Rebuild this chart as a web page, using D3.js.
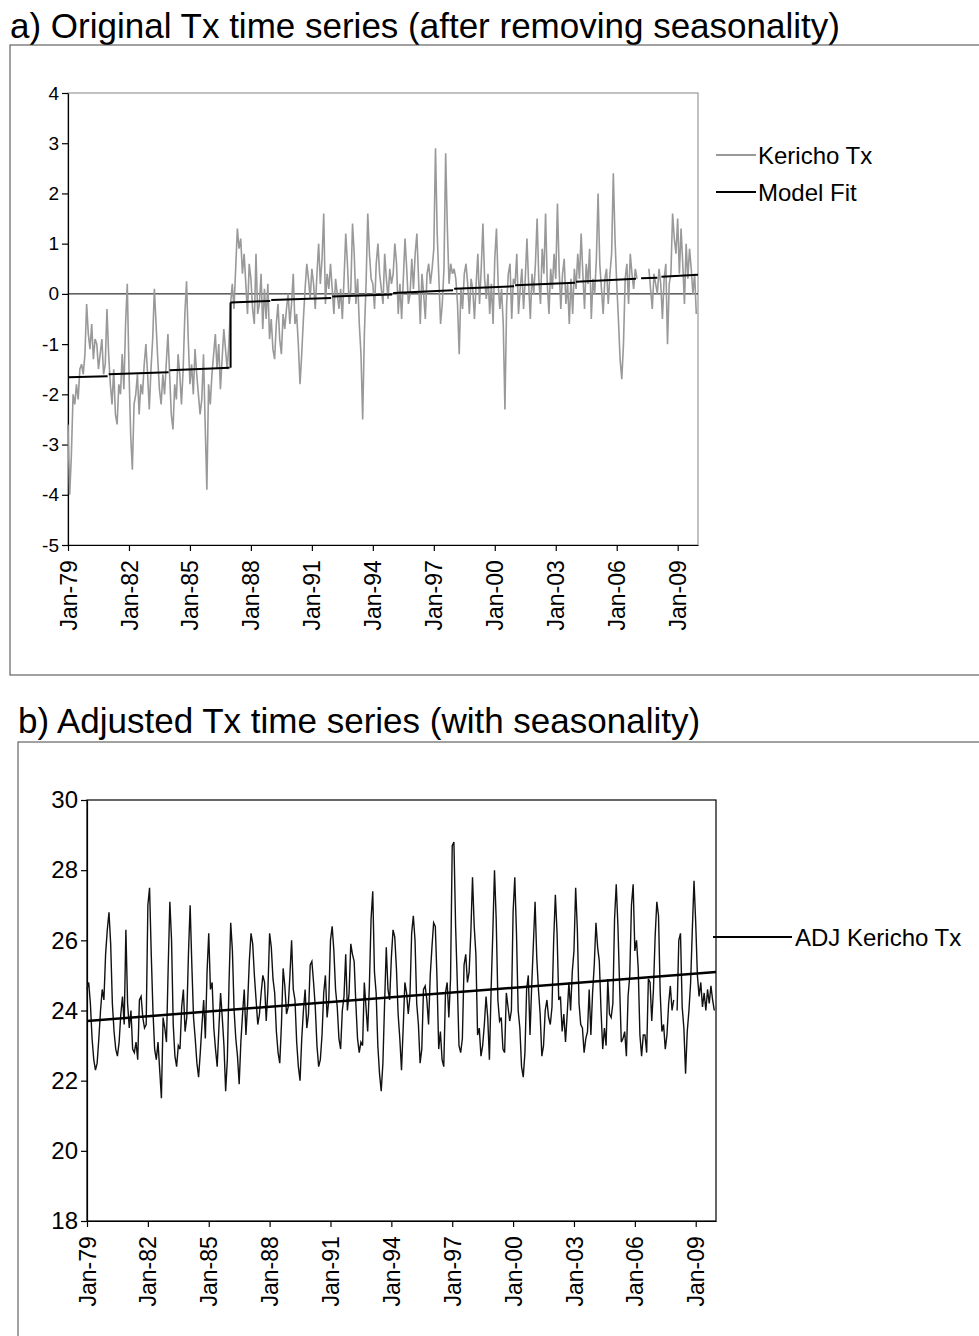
<!DOCTYPE html>
<html><head><meta charset="utf-8">
<script src="https://cdn.jsdelivr.net/npm/d3@7"></script>
<style>body{margin:0;background:#fff;font-family:"Liberation Sans",Arial,sans-serif}</style>
</head><body><svg width="979" height="1336"></svg>
<script>
// monthly anomalies, one row per year 1979..2009
const anomRows = [
[-2.6,-4.0,-3.2,-2.0,-2.2,-1.8,-2.1,-1.5,-1.4,-1.6,-1.2,-0.2],
[-0.8,-1.1,-0.6,-1.3,-0.9,-1.0,-1.5,-1.2,-0.9,-1.6,-1.4,-0.3],
[-1.2,-1.8,-2.2,-1.5,-2.4,-2.6,-1.8,-2.0,-1.2,-1.9,-0.6,0.2],
[-1.5,-2.8,-3.5,-2.2,-2.0,-1.6,-2.4,-1.8,-2.0,-1.4,-1.0,-1.6],
[-2.3,-1.5,-0.9,0.1,-0.6,-1.3,-1.9,-2.2,-1.6,-2.0,-1.4,-0.8],
[-1.6,-2.4,-2.7,-1.8,-2.1,-1.2,-1.6,-2.2,-1.5,-0.4,0.25,-0.9],
[-1.8,-1.4,-2.0,-1.1,-1.6,-2.0,-2.4,-2.1,-1.2,-2.6,-3.9,-1.8],
[-2.2,-1.6,-1.2,-0.8,-1.5,-1.0,-1.9,-1.3,-0.7,-1.1,-1.5,-1.0],
[-0.2,0.2,-0.3,0.5,1.3,0.9,1.1,0.4,0.8,0.2,-0.4,0.6],
[0.3,-0.3,-0.6,0.8,-0.4,-0.2,0.4,-0.7,0.1,-0.5,0.2,-0.9],
[-0.5,-1.1,-1.3,-0.6,-0.2,-0.9,-1.2,-0.4,-0.7,-0.3,0.0,-0.6],
[-0.2,0.4,-0.6,-0.4,-1.0,-1.8,-1.2,-0.5,0.1,0.6,0.3,-0.1],
[0.5,0.2,-0.3,0.4,1.0,0.2,0.7,1.6,-0.2,0.4,0.1,0.6],
[0.1,-0.4,0.3,0.0,-0.3,0.1,-0.5,0.3,1.2,0.6,-0.2,0.1],
[1.4,0.8,-0.2,0.3,-0.6,-1.2,-2.5,-0.8,0.2,1.6,0.8,0.3],
[0.2,-0.3,0.6,1.0,0.4,0.1,-0.2,0.8,0.3,-0.1,0.5,0.2],
[0.4,1.0,0.6,-0.4,0.2,-0.5,0.3,1.1,0.5,-0.2,0.0,0.7],
[0.1,0.8,1.2,0.3,-0.6,0.4,0.0,-0.5,0.4,0.6,0.2,0.5],
[0.9,2.9,1.2,0.3,-0.6,-0.2,0.5,2.8,1.3,0.2,0.6,0.4],
[0.5,0.3,-0.2,-1.2,0.1,-0.3,0.4,0.6,0.2,-0.4,0.3,0.1],
[-0.5,0.2,0.8,-0.2,0.5,1.4,0.3,-0.1,0.4,-0.4,0.2,-0.6],
[0.7,1.3,0.2,-0.3,0.1,-0.6,-2.3,-0.2,0.4,0.6,-0.5,0.3],
[0.2,0.8,-0.4,0.1,0.5,-0.3,0.3,1.1,0.2,-0.5,0.4,0.0],
[0.6,1.5,0.3,-0.2,0.9,0.4,1.6,0.2,-0.4,0.5,0.1,0.8],
[0.3,1.8,0.5,-0.3,0.4,0.7,-0.2,0.2,-0.6,0.3,-0.4,0.5],
[0.1,0.8,0.3,1.2,0.4,-0.3,0.6,0.2,0.9,-0.5,0.3,0.0],
[0.7,2.0,0.6,0.1,-0.4,0.3,0.5,-0.2,0.4,0.8,2.4,1.1],
[0.2,-0.5,-1.3,-1.7,-1.0,0.3,0.6,-0.2,0.8,0.4,0.1,0.5],
[0.3,null,null,null,null,null,null,0.5,0.1,-0.3,0.4,0.2],
[0.0,0.5,0.2,-0.5,0.3,0.6,-1.0,0.2,0.4,1.6,1.1,0.8],
[1.5,0.4,1.3,0.6,-0.2,1.0,0.3,0.9,0.5,0.0,0.4,-0.4]
];
// model fit segments: [start year, end year, value at start, value at end]
const fitSegments = [
[1979.0,1980.95,-1.66,-1.64],[1981.0,1983.95,-1.60,-1.56],[1984.0,1986.95,-1.52,-1.47],
[1987.0,1988.95,-0.17,-0.14],[1989.0,1991.95,-0.12,-0.08],[1992.0,1994.95,-0.05,-0.01],
[1995.0,1997.95,0.02,0.07],[1998.0,2000.95,0.10,0.15],[2001.0,2003.95,0.17,0.22],
[2004.0,2006.95,0.24,0.30],[2007.2,2008.0,0.31,0.32],[2008.2,2010.0,0.34,0.38]
];
// adjusted Tx with seasonality, one row per year 1979..2009
const adjRows = [
[24.6,24.8,24.2,23.2,22.6,22.3,22.5,23.2,24.0,24.6,24.3,25.6],
[26.3,26.8,25.9,24.2,23.4,22.9,22.7,23.1,23.9,24.4,23.6,26.3],
[24.2,23.5,24.0,22.9,22.8,23.1,22.6,24.3,24.4,23.8,23.5,23.6],
[27.0,27.5,25.6,24.0,22.9,22.6,23.1,22.3,21.5,23.8,23.5,23.1],
[25.2,27.1,26.0,23.6,22.7,22.4,23.0,22.9,24.1,24.6,23.4,23.8],
[25.6,27.0,25.3,23.8,23.2,22.5,22.1,22.8,23.6,24.3,23.2,25.1],
[26.2,24.6,24.8,23.5,22.9,22.4,23.5,24.5,23.8,23.0,21.7,22.6],
[24.8,26.5,25.7,24.0,23.2,22.7,21.9,23.1,23.9,24.6,23.3,24.2],
[25.4,26.2,25.9,25.0,24.3,23.6,23.9,24.5,25.0,24.8,23.7,24.6],
[26.2,25.8,24.9,24.5,23.4,22.8,22.5,23.6,25.2,24.7,23.9,24.1],
[25.0,26.0,24.6,24.3,23.1,22.4,22.0,23.2,24.0,24.6,23.5,23.9],
[25.3,25.4,24.8,24.1,23.0,22.4,22.6,23.3,24.5,25.0,23.8,24.3],
[26.0,26.4,25.7,24.6,24.1,23.2,22.9,24.0,24.4,25.6,24.0,24.5],
[25.9,25.6,25.4,24.2,23.2,22.8,23.1,23.0,24.8,24.1,23.4,24.7],
[26.6,27.4,25.1,24.5,23.0,22.2,21.7,22.5,24.2,25.8,24.6,24.3],
[25.5,26.3,26.1,25.2,23.9,23.2,22.3,23.5,24.8,24.5,23.9,24.4],
[26.2,26.7,26.0,24.2,23.6,22.5,22.9,24.6,24.7,24.3,23.6,25.0],
[25.8,26.5,26.4,24.9,22.9,23.4,22.6,22.4,24.5,24.8,23.8,24.9],
[28.7,28.8,26.4,24.8,23.0,22.8,23.2,25.3,25.6,24.8,25.1,26.2],
[27.8,26.4,25.6,23.3,23.5,22.7,23.0,23.6,24.4,23.8,22.6,24.6],
[26.2,28.0,26.6,24.3,23.7,23.8,22.9,22.8,24.5,24.1,23.7,24.0],
[26.8,27.8,26.2,24.0,23.5,22.4,22.1,22.8,24.6,25.0,23.3,24.7],
[25.9,27.1,25.5,24.6,23.9,22.7,23.0,24.0,24.3,23.8,23.6,24.1],
[26.0,27.3,26.2,24.3,24.4,23.4,23.9,23.1,23.9,24.8,24.0,25.1],
[25.7,27.5,26.3,24.2,23.6,23.5,22.8,23.2,23.4,24.6,23.3,24.5],
[25.3,26.5,25.8,25.4,24.0,22.9,23.5,23.0,24.9,23.9,23.8,24.2],
[26.6,27.6,26.4,24.7,23.1,23.2,23.4,22.7,24.4,25.0,27.0,27.6],
[25.7,26.0,25.2,23.3,22.7,23.3,23.3,22.8,24.9,24.8,23.7,24.6],
[26.1,27.1,26.7,24.5,23.4,23.6,22.9,23.3,24.2,24.7,24.0,24.3],
[null,24.0,26.0,26.2,24.1,23.5,22.2,23.4,24.0,24.8,26.3,27.7],
[26.5,25.0,24.4,24.8,24.1,24.5,24.0,24.6,24.2,24.7,24.3,24.0]
];
const trendEnds = [[1979.0,23.7],[2010.0,25.1]];
const tickYears = [1979,1982,1985,1988,1991,1994,1997,2000,2003,2006,2009];
const firstYear = 1979;

const toSeries = rows => rows.flatMap((r,i)=>r.map((v,m)=>({t:firstYear+i+m/12, v})));
const anom = toSeries(anomRows), adj = toSeries(adjRows);
const tickLabel = y => "Jan-" + String(y%100).padStart(2,"0");

const svg = d3.select("svg");

function panel(o){
  const g = svg.append("g");
  g.append("text").attr("x",o.titleX).attr("y",o.titleY).attr("font-size",o.titleFont).text(o.title);
  g.append("rect").attr("x",o.frame[0]).attr("y",o.frame[1]).attr("width",o.frame[2]).attr("height",o.frame[3])
    .attr("fill","none").attr("stroke","#444").attr("stroke-width",1);
  const x = d3.scaleLinear().domain([1979,2010]).range([o.x0,o.x1]);
  const y = d3.scaleLinear().domain(o.yDom).range([o.y1,o.y0]);
  g.append("rect").attr("x",o.x0).attr("y",o.y0).attr("width",o.x1-o.x0).attr("height",o.y1-o.y0)
    .attr("fill","none").attr("stroke",o.boxColor).attr("stroke-width",1.2);
  const ya = g.append("g").attr("transform",`translate(${o.x0},0)`)
    .call(d3.axisLeft(y).tickValues(o.yTicks).tickFormat(d=>String(d)).tickSize(6).tickSizeOuter(0));
  ya.selectAll("text").attr("font-size",o.yFont).attr("font-family","Liberation Sans, Arial").attr("fill","#000");
  ya.selectAll("line,path").attr("stroke","#000").attr("stroke-width",1.2);
  const xa = g.append("g").attr("transform",`translate(0,${o.y1})`)
    .call(d3.axisBottom(x).tickValues(tickYears).tickFormat(tickLabel).tickSize(6).tickSizeOuter(0));
  xa.selectAll("text").attr("font-size",o.xFont).attr("font-family","Liberation Sans, Arial").attr("fill","#000")
    .attr("transform","rotate(-90)").attr("text-anchor","end").attr("dx","-0.4em").attr("dy","0.35em").attr("y",0).attr("x",-6);
  xa.selectAll("line,path").attr("stroke","#000").attr("stroke-width",1.2);
  return {g,x,y};
}

// panel a
const A = panel({title:"a)  Original Tx time series (after removing seasonality)",titleX:10,titleY:38,titleFont:35,
  frame:[10,45,975,630],x0:68,x1:698,y0:93,y1:545,yDom:[-5,4],yTicks:d3.range(-5,5),
  boxColor:"#999",yFont:19,xFont:23});
A.g.append("line").attr("x1",A.x(1979)).attr("x2",A.x(2010)).attr("y1",A.y(0)).attr("y2",A.y(0)).attr("stroke","#000").attr("stroke-width",1);
A.g.append("path").datum(anom)
  .attr("d",d3.line().defined(d=>d.v!==null).x(d=>A.x(d.t)).y(d=>A.y(d.v)))
  .attr("fill","none").attr("stroke","#999").attr("stroke-width",1.6);
A.g.selectAll(".fit").data(fitSegments).join("line")
  .attr("x1",d=>A.x(d[0])).attr("x2",d=>A.x(d[1])).attr("y1",d=>A.y(d[2])).attr("y2",d=>A.y(d[3]))
  .attr("stroke","#000").attr("stroke-width",2);
A.g.append("line").attr("x1",A.x(1987)).attr("x2",A.x(1987)).attr("y1",A.y(-1.47)).attr("y2",A.y(-0.17)).attr("stroke","#000").attr("stroke-width",2);
A.g.append("line").attr("x1",716).attr("x2",756).attr("y1",155).attr("y2",155).attr("stroke","#999").attr("stroke-width",2);
A.g.append("text").attr("x",758).attr("y",164).attr("font-size",24).text("Kericho Tx");
A.g.append("line").attr("x1",716).attr("x2",756).attr("y1",192).attr("y2",192).attr("stroke","#000").attr("stroke-width",2);
A.g.append("text").attr("x",758).attr("y",201).attr("font-size",24).text("Model Fit");

// panel b
const B = panel({title:"b) Adjusted Tx time series (with seasonality)",titleX:18,titleY:733,titleFont:35,
  frame:[18,742,975,620],x0:87,x1:716,y0:800,y1:1221,yDom:[18,30],yTicks:d3.range(18,31,2),
  boxColor:"#000",yFont:24,xFont:23});
B.g.append("path").datum(adj)
  .attr("d",d3.line().defined(d=>d.v!==null).x(d=>B.x(d.t)).y(d=>B.y(d.v)))
  .attr("fill","none").attr("stroke","#111").attr("stroke-width",1.4);
B.g.append("line").attr("x1",B.x(trendEnds[0][0])).attr("x2",B.x(trendEnds[1][0]))
  .attr("y1",B.y(trendEnds[0][1])).attr("y2",B.y(trendEnds[1][1])).attr("stroke","#000").attr("stroke-width",2.5);
B.g.append("line").attr("x1",713).attr("x2",792).attr("y1",937).attr("y2",937).attr("stroke","#000").attr("stroke-width",2);
B.g.append("text").attr("x",795).attr("y",946).attr("font-size",24).text("ADJ Kericho Tx");
</script></body></html>
